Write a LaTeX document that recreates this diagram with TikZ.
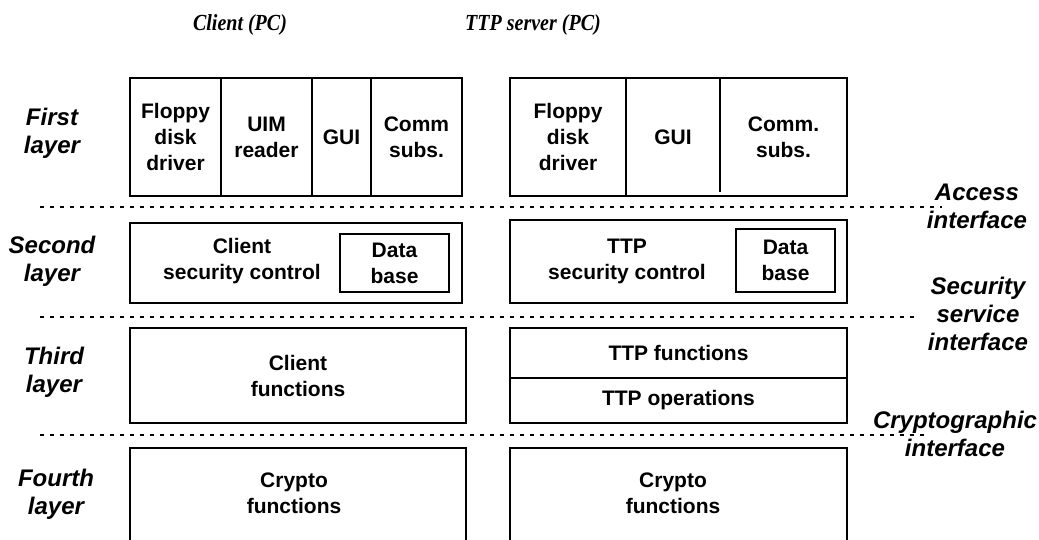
\documentclass[tikz,border=0pt]{standalone}
\usepackage{fontspec}
\usepackage{graphicx}
\setmainfont{Liberation Serif}
\newfontfamily\arialfont{Liberation Sans}
\begin{document}
\begin{tikzpicture}[x=1pt,y=-1pt,
  frame/.style={draw, line width=1.5pt, inner sep=0pt, outer sep=0pt, anchor=north west},
  cell/.style={frame, align=center, font=\arialfont\bfseries\fontsize{21}{26}\selectfont},
  blank/.style={inner sep=0pt, outer sep=0pt, anchor=north west, align=center,
    font=\arialfont\bfseries\fontsize{21}{26}\selectfont},
  txt/.style={inner sep=0pt, align=center, font=\arialfont\bfseries\fontsize{21}{26}\selectfont},
  lbl/.style={inner sep=0pt, align=center, font=\arialfont\bfseries\itshape\fontsize{24}{28}\selectfont},
  head/.style={inner sep=0pt, font=\bfseries\itshape\fontsize{23}{26}\selectfont},
  sep/.style={line width=1.4pt, dash pattern=on 3.5pt off 6.5pt},
  wall/.style={line width=1.5pt}]
\useasboundingbox (0,0) rectangle (1039,540);
\clip (0,0) rectangle (1039,540);

% column headings
\node[head] (hclient) at (240,25) {\scalebox{0.87}[1]{Client (PC)}};
\node[head] (http) at (533,25) {\scalebox{0.87}[1]{TTP server (PC)}};

% layer names
\node[lbl] (l1) at (52,133) {First\\layer};
\node[lbl] (l2) at (52,261) {Second\\layer};
\node[lbl] (l3) at (54,372) {Third\\layer};
\node[lbl] (l4) at (56,494) {Fourth\\layer};

% interface names
\node[lbl] (iacc) at (977,206) {Access\\interface};
\node[lbl] (isec) at (978,314) {Security\\service\\interface};
\node[lbl] (icry) at (955,434) {Cryptographic\\interface};

% interface separators
\coordinate (s1a) at (40,207);  \coordinate (s1b) at (942,207);
\coordinate (s2a) at (40,317);  \coordinate (s2b) at (918,317);
\coordinate (s3a) at (40,435);  \coordinate (s3b) at (930,435);
\draw[sep] (s1a) -- (s1b);
\draw[sep] (s2a) -- (s2b);
\draw[sep] (s3a) -- (s3b);

% ---- client, first layer
\node[cell, minimum width=91pt, minimum height=118pt] (cfloppy) at (130,78) {Floppy\\disk\\driver};
\node[cell, minimum width=91pt, minimum height=118pt] (cuim) at (221,78) {UIM\\reader};
\node[cell, minimum width=59pt, minimum height=118pt] (cgui) at (312,78) {GUI};
\node[cell, minimum width=91pt, minimum height=118pt] (ccomm) at (371,78) {Comm\\subs.};

% ---- client, second layer
\node[frame, minimum width=332pt, minimum height=80pt] (csec) at (130,223) {};
\node[txt] (csect) at (242,261) {Client\\security control};
\node[cell, minimum width=109pt, minimum height=58pt] (cdb) at (340,234) {Data\\base};

% ---- client, third and fourth layers
\node[cell, minimum width=336pt, minimum height=95pt] (cfun) at (130,328) {Client\\functions};
\node[frame, minimum width=336pt, minimum height=120pt] (ccry) at (130,448) {};
\node[txt] (ccryt) at (294,493) {Crypto\\functions};

% ---- TTP server, first layer
\node[frame, minimum width=337pt, minimum height=118pt] (tacc) at (510,78) {};
\node[cell, minimum width=116pt, minimum height=118pt] (tfloppy) at (510,78) {Floppy\\disk\\driver};
\node[blank, minimum width=94pt, minimum height=118pt] (tgui) at (626,78) {GUI};
\node[blank, minimum width=127pt, minimum height=118pt] (tcomm) at (720,78) {Comm.\\subs.};
\draw[wall] (tgui.north east) -- ([yshift=4pt]tgui.south east);

% ---- TTP server, second layer
\node[frame, minimum width=337pt, minimum height=83pt] (tsec) at (510,220) {};
\node[txt] (tsect) at (627,261) {TTP\\security control};
\node[cell, minimum width=99pt, minimum height=63pt] (tdb) at (736,229) {Data\\base};

% ---- TTP server, third and fourth layers
\node[cell, minimum width=337pt, minimum height=50pt] (tfun) at (510,328) {TTP functions};
\node[cell, minimum width=337pt, minimum height=45pt] (tops) at (510,378) {TTP operations};
\node[frame, minimum width=337pt, minimum height=120pt] (tcry) at (510,448) {};
\node[txt] (tcryt) at (673,493) {Crypto\\functions};
\end{tikzpicture}
\end{document}
